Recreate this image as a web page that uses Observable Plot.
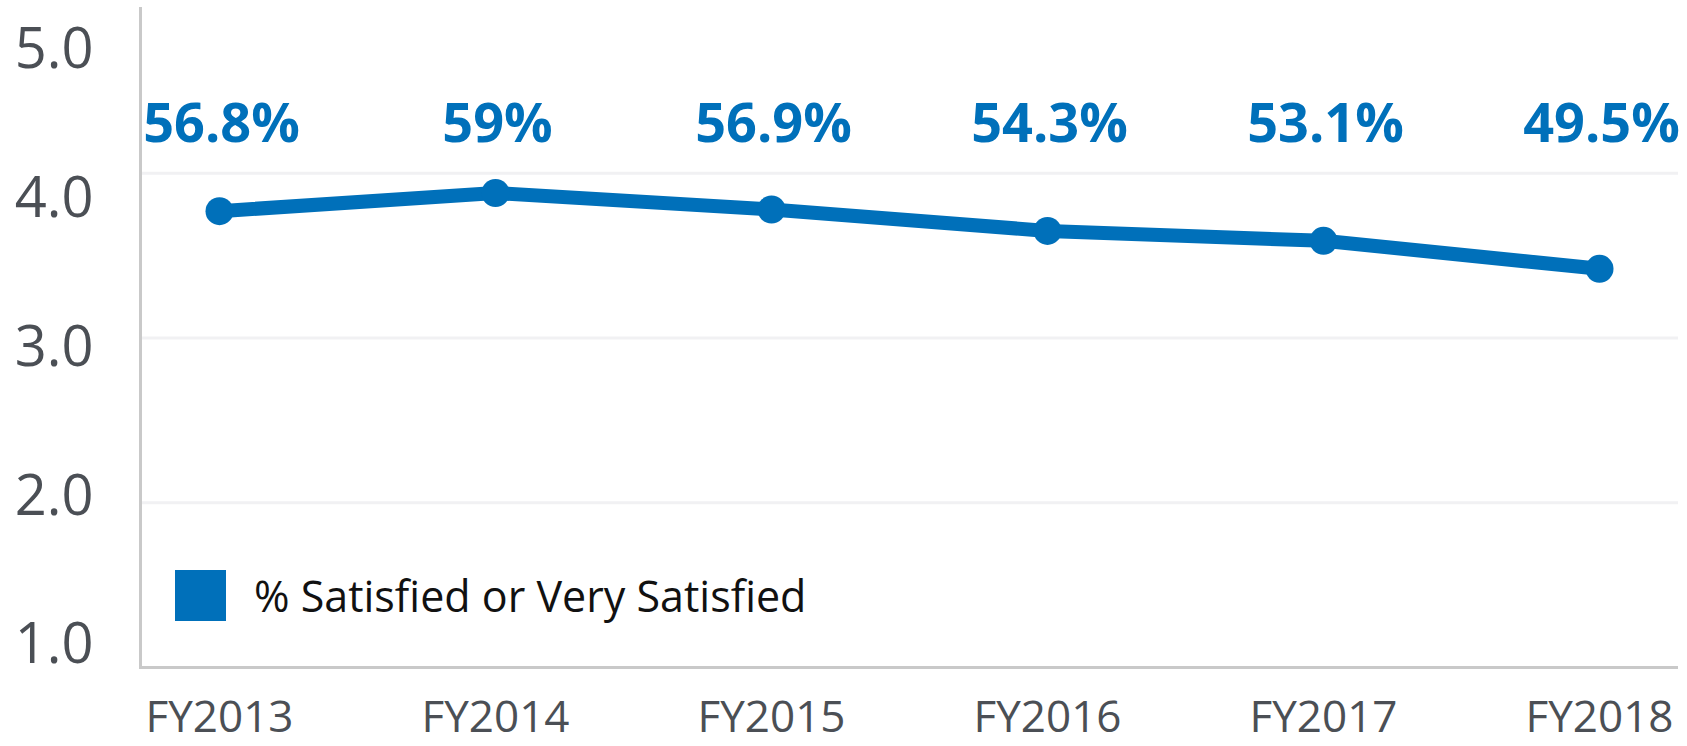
<!DOCTYPE html>
<html>
<head>
<meta charset="utf-8">
<script src="https://cdn.jsdelivr.net/npm/d3@7"></script>
<script src="https://cdn.jsdelivr.net/npm/@observablehq/plot@0.6"></script>
<style>
  html, body { margin: 0; padding: 0; background: #fff; }
  #wrap { position: relative; width: 1687px; height: 746px; overflow: hidden; }
  #wrap > svg, #wrap > figure { position: absolute; left: 0; top: 0; margin: 0; }
  #legend { position: absolute; left: 175px; top: 566px; display: flex; align-items: center;
            font-family: "Open Sans", sans-serif; font-size: 43px; color: #111; }
  #legend .sw { width: 51px; height: 51px; background: #0070ba; margin-right: 28px; }
</style>
</head>
<body>
<div id="wrap"></div>
<script>
// Data
const years = ["FY2013", "FY2014", "FY2015", "FY2016", "FY2017", "FY2018"];
const scores = [3.77, 3.88, 3.78, 3.65, 3.59, 3.42];
const pctLabels = ["56.8%", "59%", "56.9%", "54.3%", "53.1%", "49.5%"];
const yTicks = [1, 2, 3, 4, 5];
const gridTicks = [2, 3, 4];
const seriesName = "% Satisfied or Very Satisfied";

const blue = "#0070ba";
const gray = "#4b4f55";
const data = years.map((y, i) => ({year: y, score: scores[i], label: pctLabels[i]}));

const W = 1687, H = 746;

const main = Plot.plot({
  width: W, height: H,
  marginLeft: 140, marginRight: 9, marginTop: 8, marginBottom: 79,
  style: {background: "transparent", overflow: "visible"},
  x: {type: "point", domain: years, padding: 0.278, label: null},
  y: {domain: [1, 5], label: null, axis: null},
  marks: [
    Plot.ruleY(gridTicks, {stroke: "#f1f1f3", strokeWidth: 3}),
    Plot.frame({anchor: "left", stroke: "#c9c9c9", strokeWidth: 3}),
    Plot.ruleY([1], {stroke: "#c9c9c9", strokeWidth: 3}),
    Plot.axisX({tickSize: 0, tickPadding: 33, fontSize: 44, fill: gray, fontFamily: "Open Sans",
                letterSpacing: "-1.2px"}),
    Plot.line(data, {x: "year", y: "score", stroke: blue, strokeWidth: 14, strokeLinejoin: "round"}),
    Plot.dot(data, {x: "year", y: "score", r: 14, fill: blue}),
    Plot.text(data, {x: "year", text: "label", frameAnchor: "top", lineAnchor: "middle", dy: 116,
                     dx: 2, fill: blue, fontSize: 54, fontWeight: "bold", letterSpacing: "-4px",
                     fontFamily: "Open Sans, sans-serif"})
  ]
});

// y tick labels (placed on their own evenly spaced scale, as in the reference)
const yLabels = Plot.plot({
  width: 140, height: H,
  marginLeft: 93, marginRight: 0, marginTop: 50, marginBottom: 101,
  style: {background: "transparent", overflow: "visible"},
  x: {axis: null},
  y: {domain: [1, 5], label: null},
  marks: [
    Plot.axisY(yTicks, {tickSize: 0, tickPadding: 0, tickFormat: d3.format(".1f"),
                        fontSize: 56, fill: gray, fontFamily: "Open Sans", letterSpacing: "-2px"})
  ]
});

const wrap = document.getElementById("wrap");
wrap.appendChild(main);
wrap.appendChild(yLabels);
const legend = document.createElement("div");
legend.id = "legend";
legend.innerHTML = `<div class="sw"></div><span></span>`;
legend.querySelector("span").textContent = seriesName;
wrap.appendChild(legend);
</script>
</body>
</html>
